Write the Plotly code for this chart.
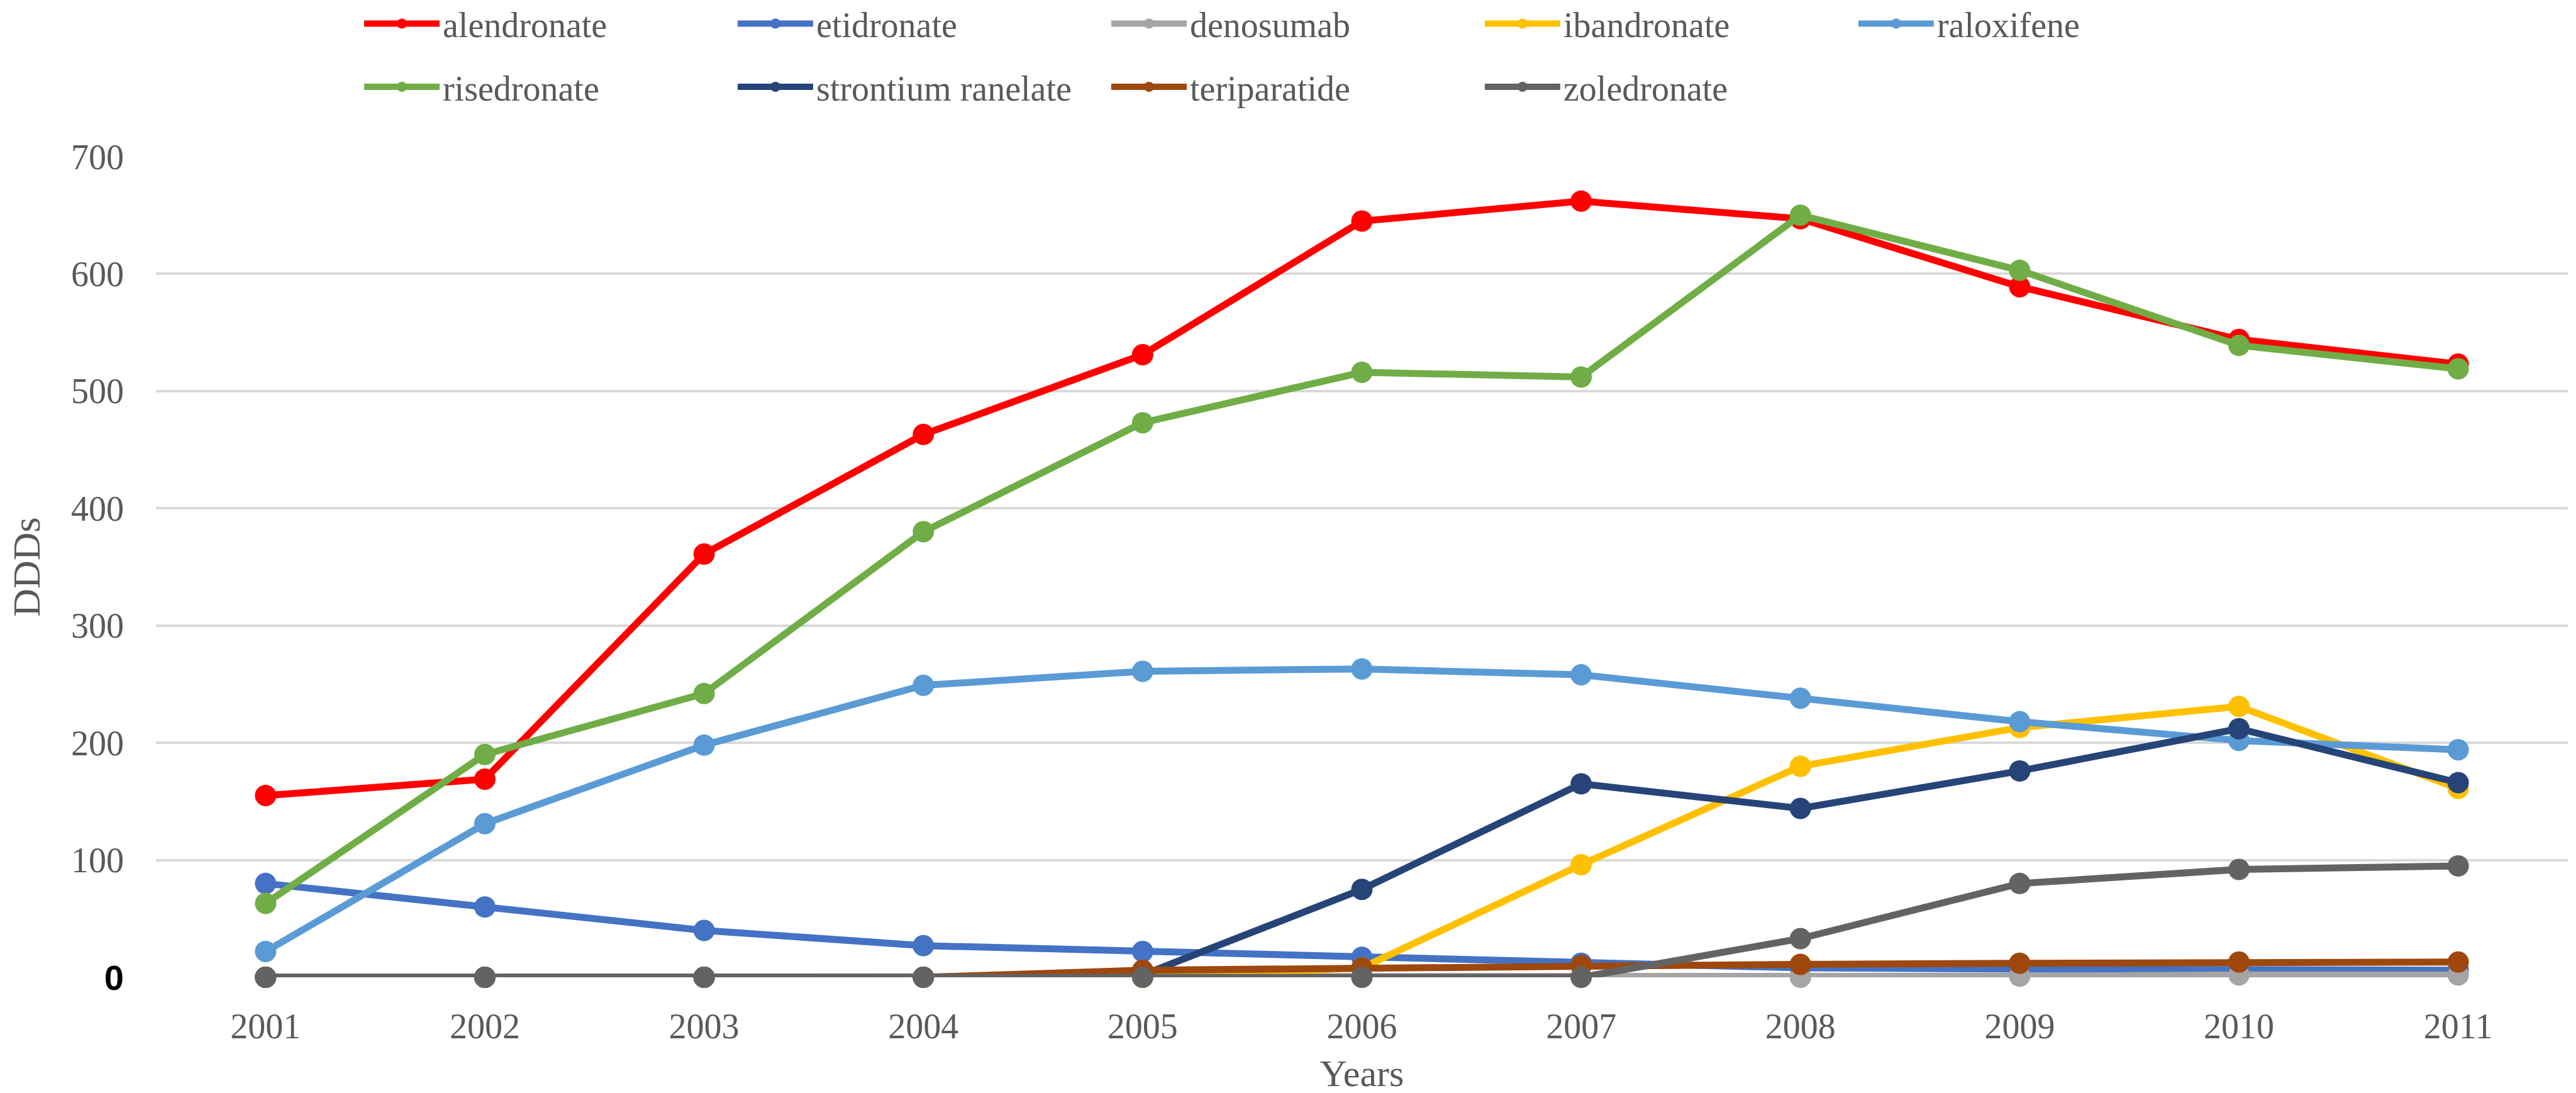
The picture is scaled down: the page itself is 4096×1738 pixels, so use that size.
# DDDs per year for osteoporosis drugs, 2001-2011
import plotly.graph_objects as go

years = [2001, 2002, 2003, 2004, 2005, 2006, 2007, 2008, 2009, 2010, 2011]

alendronate = [155, 169, 361, 463, 531, 645, 662, 647, 589, 544, 523]
etidronate = [80, 60, 40, 27, 22, 17, 12, 8, 7, 6, 6]
denosumab = [0, 0, 0, 0, 0, 0, 0, 0, 1, 2, 2]
ibandronate = [0, 0, 0, 0, 0, 8, 96, 180, 213, 231, 161]
raloxifene = [22, 131, 198, 249, 261, 263, 258, 238, 218, 202, 194]
risedronate = [63, 190, 242, 380, 473, 516, 512, 650, 603, 539, 519]
strontium_ranelate = [0, 0, 0, 0, 2, 75, 165, 144, 176, 212, 166]
teriparatide = [0, 0, 0, 0, 6, 8, 10, 11, 12, 13, 13]
zoledronate = [0, 0, 0, 0, 0, 0, 0, 33, 80, 92, 95]

y_ticks = [0, 100, 200, 300, 400, 500, 600, 700]
y_ticktext = ["<span style='font-family:Liberation Sans;font-weight:bold;color:#000000'>0</span>",
              "100", "200", "300", "400", "500", "600", "700"]

# name, values, colour, which legend row
series = [
    ("alendronate", alendronate, "#FF0000", "legend"),
    ("etidronate", etidronate, "#4472C4", "legend"),
    ("denosumab", denosumab, "#A5A5A5", "legend"),
    ("ibandronate", ibandronate, "#FFC000", "legend"),
    ("raloxifene", raloxifene, "#5B9BD5", "legend"),
    ("risedronate", risedronate, "#70AD47", "legend2"),
    ("strontium ranelate", strontium_ranelate, "#264478", "legend2"),
    ("teriparatide", teriparatide, "#9E480E", "legend2"),
    ("zoledronate", zoledronate, "#636363", "legend2"),
]

serif = "Palatino Linotype, Book Antiqua, Liberation Serif, serif"
grey = "#595959"

fig = go.Figure()
for name, vals, col, leg in series:
    fig.add_trace(go.Scatter(
        x=years, y=vals, name=name, mode="lines+markers",
        line=dict(color=col, width=11),
        marker=dict(color=col, size=34),
        cliponaxis=False, legend=leg))

legend_style = dict(
    orientation="h", xref="paper", yref="paper", xanchor="left", yanchor="middle",
    x=0.085, font=dict(family=serif, size=56, color=grey),
    itemwidth=120, entrywidth=459, bgcolor="rgba(0,0,0,0)", traceorder="normal")

fig.update_layout(
    width=4096, height=1738,
    # keep the plot area fixed, legends sit in the top margin
    margin=dict(l=240, r=21, t=241, b=192, autoexpand=False),
    paper_bgcolor="white", plot_bgcolor="white",
    font=dict(family=serif, color=grey),
    legend=dict(legend_style, y=1.162),
    legend2=dict(legend_style, y=1.085),
    xaxis=dict(
        range=[2000.5, 2011.5], tickvals=years, ticktext=[str(y) for y in years],
        showgrid=False, zeroline=False, showline=False,
        tickfont=dict(family=serif, size=56, color=grey), ticklabelstandoff=40,
        title=dict(text="Years", font=dict(family=serif, size=60, color=grey), standoff=22),
        automargin=False),
    yaxis=dict(
        range=[0, 700], tickvals=y_ticks, ticktext=y_ticktext,
        showgrid=True, gridcolor="#D9D9D9", gridwidth=4, zeroline=False, showline=False,
        tickfont=dict(family=serif, size=56, color=grey), ticklabelstandoff=50,
        title=dict(text="DDDs", font=dict(family=serif, size=62, color=grey), standoff=30),
        automargin=False),
)

fig.write_html("out.html")
